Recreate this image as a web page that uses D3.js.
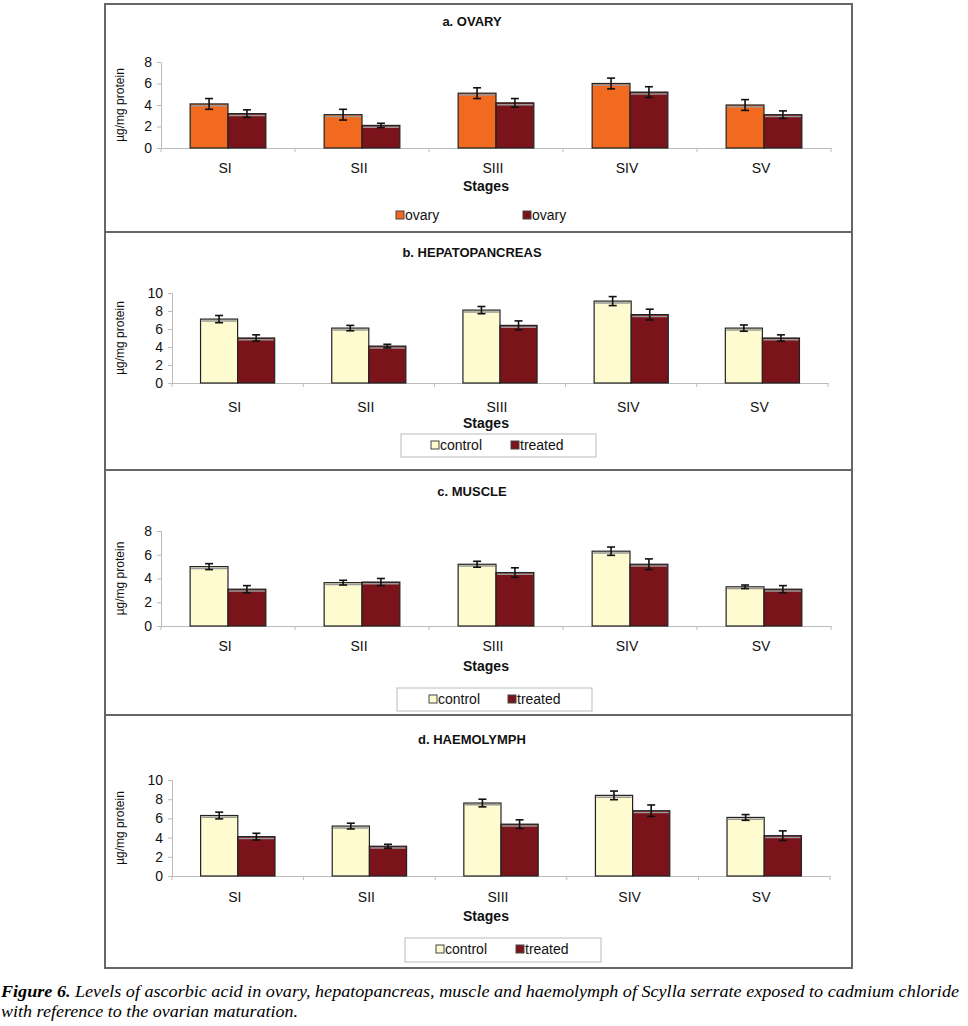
<!DOCTYPE html>
<html><head><meta charset="utf-8">
<script src="https://cdn.jsdelivr.net/npm/d3@7"></script>
<style>
body{margin:0;background:#fff;}
svg text{font-family:"Liberation Sans Narrow","Liberation Sans",Arial,sans-serif;}
</style></head>
<body>
<script>
// ---- data ----
const stages = ["SI","SII","SIII","SIV","SV"];
const ovaryControl = [4.1,3.1,5.1,6.0,4.0];
const ovaryControlErr = [0.5,0.5,0.5,0.5,0.5];
const ovaryTreated = [3.2,2.1,4.2,5.2,3.1];
const ovaryTreatedErr = [0.35,0.2,0.4,0.5,0.35];
const hepControl = [7.1,6.1,8.1,9.1,6.1];
const hepControlErr = [0.4,0.3,0.4,0.5,0.35];
const hepTreated = [5.0,4.1,6.4,7.6,5.0];
const hepTreatedErr = [0.35,0.2,0.5,0.6,0.35];
const muscleControl = [5.0,3.65,5.2,6.3,3.3];
const muscleControlErr = [0.25,0.2,0.25,0.35,0.15];
const muscleTreated = [3.1,3.7,4.5,5.2,3.1];
const muscleTreatedErr = [0.3,0.3,0.4,0.45,0.3];
const haemoControl = [6.3,5.2,7.6,8.4,6.1];
const haemoControlErr = [0.35,0.3,0.4,0.45,0.3];
const haemoTreated = [4.1,3.1,5.4,6.8,4.2];
const haemoTreatedErr = [0.35,0.2,0.45,0.6,0.5];
const yTicksA = [0,2,4,6,8];
const yTicksB = [0,2,4,6,8,10];
const titles = ["a. OVARY","b. HEPATOPANCREAS","c. MUSCLE","d. HAEMOLYMPH"];
const legendA = ["ovary","ovary"];
const legendB = ["control","treated"];

const W=968,H=1026;
const svg=d3.select("body").append("svg").attr("width",W).attr("height",H);

const panels=[
 {title:titles[0],ctrl:ovaryControl,ce:ovaryControlErr,trt:ovaryTreated,te:ovaryTreatedErr,ticks:yTicksA,max:8,
  box:[105,4,852,232],titleY:26,yTop:62,yBot:148,x0:161,x1:831,catY:173,stY:191,c1:"#F26A1F",c2:"#7A141A",leg:legendA,legBox:null,legY:216,legX:[396,523]},
 {title:titles[1],ctrl:hepControl,ce:hepControlErr,trt:hepTreated,te:hepTreatedErr,ticks:yTicksB,max:10,
  box:[105,232,852,470],titleY:257,yTop:293,yBot:383,x0:172,x1:828,catY:412,stY:428,c1:"#FFFBD0",c2:"#7A141A",leg:legendB,legBox:[401,434,596,457],legY:446,legX:[431,511]},
 {title:titles[2],ctrl:muscleControl,ce:muscleControlErr,trt:muscleTreated,te:muscleTreatedErr,ticks:yTicksA,max:8,
  box:[105,470,852,715],titleY:496,yTop:531,yBot:626,x0:161,x1:831,catY:651,stY:671,c1:"#FFFBD0",c2:"#7A141A",leg:legendB,legBox:[397,688,592,711],legY:700,legX:[429,508]},
 {title:titles[3],ctrl:haemoControl,ce:haemoControlErr,trt:haemoTreated,te:haemoTreatedErr,ticks:yTicksB,max:10,
  box:[105,715,852,968],titleY:744,yTop:780,yBot:876,x0:172,x1:830,catY:902,stY:921,c1:"#FFFBD0",c2:"#7A141A",leg:legendB,legBox:[405,938,601,962],legY:950,legX:[436,516]}
];

panels.forEach(p=>{
  const g=svg.append("g");
  const [bx0,by0,bx1,by1]=p.box;
  g.append("rect").attr("x",bx0).attr("y",by0).attr("width",bx1-bx0).attr("height",by1-by0)
   .attr("fill","none").attr("stroke","#666").attr("stroke-width",2);
  g.append("text").attr("x",472).attr("y",p.titleY).attr("text-anchor","middle")
   .attr("font-weight","bold").attr("font-size",13).attr("fill","#111").text(p.title);

  const x=d3.scaleBand().domain(stages).range([p.x0,p.x1]);
  const inner=d3.scaleBand().domain(["c","t"]).range([0,x.bandwidth()*0.565]);
  const off=(x.bandwidth()-x.bandwidth()*0.565)/2;
  const y=d3.scaleLinear().domain([0,p.max]).range([p.yBot,p.yTop]);

  // y axis
  const ya=g.append("g").attr("transform",`translate(${p.x0},0)`)
    .call(d3.axisLeft(y).tickValues(p.ticks).tickSize(4).tickPadding(5));
  ya.select(".domain").attr("stroke","#bbb");
  ya.selectAll(".tick line").attr("stroke","#bbb");
  ya.selectAll(".tick text").attr("font-size",14).attr("fill","#111")
    .style("font-family","'Liberation Sans',Arial,sans-serif");
  // x axis
  const xa=g.append("g").attr("transform",`translate(0,${p.yBot})`)
    .call(d3.axisBottom(x).tickSize(0).tickFormat(""));
  xa.select(".domain").attr("stroke","#bbb");
  g.selectAll(".xt").data(d3.range(stages.length+1)).join("line")
   .attr("x1",i=>p.x0+i*x.bandwidth()).attr("x2",i=>p.x0+i*x.bandwidth())
   .attr("y1",p.yBot).attr("y2",p.yBot+4).attr("stroke","#bbb");
  g.selectAll(".cat").data(stages).join("text")
   .attr("x",d=>x(d)+x.bandwidth()/2-3).attr("y",p.catY).attr("text-anchor","middle")
   .attr("font-size",14).attr("fill","#111").text(d=>d);
  g.append("text").attr("x",486).attr("y",p.stY).attr("text-anchor","middle")
   .attr("font-size",14).attr("font-weight","bold").attr("fill","#111").text("Stages");
  g.append("text").attr("transform",`translate(${bx0+19},${(p.yTop+p.yBot)/2}) rotate(-90)`)
   .attr("text-anchor","middle").attr("font-size",12).attr("fill","#111")
   .style("font-family","'Liberation Sans',Arial,sans-serif").text("µg/mg protein");

  // bars
  const rows=stages.map((s,i)=>[{s,k:"c",v:p.ctrl[i],e:p.ce[i],col:p.c1},{s,k:"t",v:p.trt[i],e:p.te[i],col:p.c2}]).flat();
  g.selectAll(".bar").data(rows).join("rect")
   .attr("x",d=>x(d.s)+off+inner(d.k)).attr("width",inner.bandwidth())
   .attr("y",d=>y(d.v)).attr("height",d=>y(0)-y(d.v))
   .attr("fill",d=>d.col).attr("stroke","#222").attr("stroke-width",1.2);
  g.selectAll(".bartop").data(rows).join("line")
   .attr("x1",d=>x(d.s)+off+inner(d.k)+1).attr("x2",d=>x(d.s)+off+inner(d.k)+inner.bandwidth()-1)
   .attr("y1",d=>y(d.v)+1.8).attr("y2",d=>y(d.v)+1.8).attr("stroke","#999").attr("stroke-width",1.5);
  // error bars
  const cx=d=>x(d.s)+off+inner(d.k)+inner.bandwidth()/2;
  const eg=g.selectAll(".err").data(rows).join("g").attr("stroke","#111").attr("stroke-width",1.6);
  eg.append("line").attr("x1",cx).attr("x2",cx).attr("y1",d=>y(d.v+d.e)).attr("y2",d=>y(d.v-d.e));
  eg.append("line").attr("x1",d=>cx(d)-4).attr("x2",d=>cx(d)+4).attr("y1",d=>y(d.v+d.e)).attr("y2",d=>y(d.v+d.e));
  eg.append("line").attr("x1",d=>cx(d)-4).attr("x2",d=>cx(d)+4).attr("y1",d=>y(d.v-d.e)).attr("y2",d=>y(d.v-d.e));

  // legend
  if(p.legBox){
    const [lx0,ly0,lx1,ly1]=p.legBox;
    g.append("rect").attr("x",lx0).attr("y",ly0).attr("width",lx1-lx0).attr("height",ly1-ly0)
     .attr("fill","#fff").attr("stroke","#bbb").attr("stroke-width",1);
  }
  [p.c1,p.c2].forEach((c,i)=>{
    g.append("rect").attr("x",p.legX[i]).attr("y",p.legY-5).attr("width",8).attr("height",8)
     .attr("fill",c).attr("stroke","#444").attr("stroke-width",1);
    g.append("text").attr("x",p.legX[i]+9).attr("y",p.legY+4).attr("font-size",14).attr("fill","#111").text(p.leg[i]);
  });
});

// caption
const cap=svg.append("text").attr("x",1).attr("y",997).attr("font-size",17)
  .style("font-family","'Liberation Serif','Times New Roman',serif").attr("font-style","italic")
  .attr("textLength",958).attr("lengthAdjust","spacingAndGlyphs");
cap.append("tspan").attr("font-weight","bold").text("Figure 6. ");
cap.append("tspan").text("Levels of ascorbic acid in ovary, hepatopancreas, muscle and haemolymph of Scylla serrate exposed to cadmium chloride");
svg.append("text").attr("x",1).attr("y",1017).attr("font-size",17)
  .style("font-family","'Liberation Serif','Times New Roman',serif").attr("font-style","italic")
  .attr("textLength",297).attr("lengthAdjust","spacingAndGlyphs")
  .text("with reference to the ovarian maturation.");
</script>
</body></html>
